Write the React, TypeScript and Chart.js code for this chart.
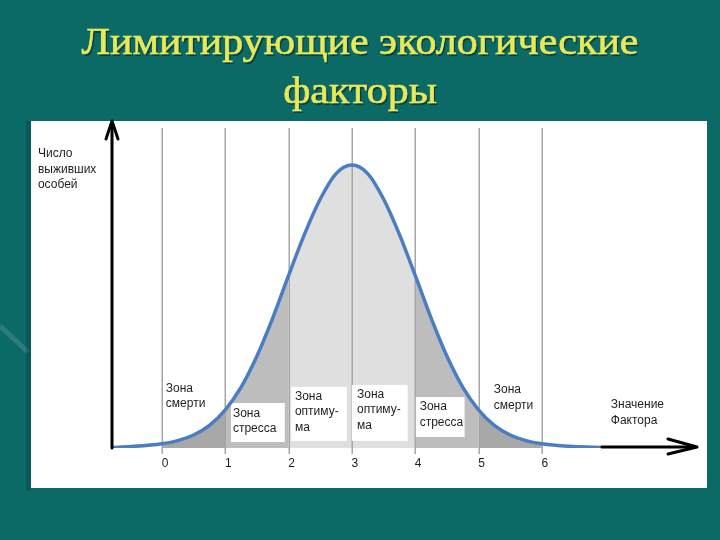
import React, { useEffect, useRef } from "react";
import { Chart, registerables } from "chart.js";

Chart.register(...registerables);

// ---------- data ----------
const titleLines = ["Лимитирующие экологические", "факторы"];
const factorValues = [
  -0.79, -0.5, 0, 0.25, 0.5, 0.75, 1, 1.25, 1.5, 1.75, 2, 2.25, 2.5, 2.75, 3,
  3.25, 3.5, 3.75, 4, 4.25, 4.5, 4.75, 5, 5.25, 5.5, 5.75, 6, 6.5, 6.95,
];
const survivors = [
  0.2, 0.5, 1.5, 2.6, 4.6, 8.0, 13.5, 21.5, 32.5, 46, 61, 75.5, 88, 97, 100,
  97, 88, 75.5, 61, 46, 32.5, 21.5, 13.5, 8.0, 4.6, 2.6, 1.5, 0.5, 0.2,
];
const tickValues = [0, 1, 2, 3, 4, 5, 6];
const zoneEdges = [0, 1, 2, 4, 5, 6];
const yAxisTitle = ["Число", "выживших", "особей"];
const xAxisTitle = ["Значение", "Фактора"];
const deathLabel = ["Зона", "смерти"];
const stressLabel = ["Зона", "стресса"];
const optimumLabel = ["Зона", "оптиму-", "ма"];

// ---------- styles / layout ----------
const zoneColors = ["#a8a8a8", "#bdbdbd", "#dfdfdf", "#bdbdbd", "#a8a8a8"];
const BG = "#0c6a66";
const TITLE_COLOR = "#e8e85a";
const TEXT_COLOR = "#1e1e1e";
const LABEL_FONT = '12px "Liberation Sans", Arial, sans-serif';
const LINE_H = 15.5;
const TITLE_WIDTH = 557;

type Lbl = { lines: string[]; x: number; y: number; box?: [number, number, number, number] };
const labelLayout: Lbl[] = [
  { lines: deathLabel, x: 0.06, y: 19.8 },
  { lines: stressLabel, x: 1.12, y: 11.0, box: [1.09, 1.94, 15.9, 2.1] },
  { lines: optimumLabel, x: 2.1, y: 17.0, box: [2.04, 2.92, 21.6, 2.5] },
  { lines: optimumLabel, x: 3.08, y: 17.7, box: [3.0, 3.88, 22.3, 2.5] },
  { lines: stressLabel, x: 4.07, y: 13.4, box: [4.01, 4.78, 18.0, 3.9] },
  { lines: deathLabel, x: 5.24, y: 19.4 },
  { lines: xAxisTitle, x: 7.09, y: 14.1 },
  { lines: yAxisTitle, x: -1.96, y: 102.8 },
];

function zoneColorFor(x: number): string {
  for (let i = 0; i < zoneEdges.length - 1; i++) {
    if (x >= zoneEdges[i] && x <= zoneEdges[i + 1]) return zoneColors[i];
  }
  return "rgba(0,0,0,0)";
}

const decorPlugin = {
  id: "decor",
  beforeDraw(chart: any) {
    const ctx = chart.ctx as CanvasRenderingContext2D;
    const W = chart.width;
    const H = chart.height;
    ctx.save();
    ctx.fillStyle = BG;
    ctx.fillRect(0, 0, W, H);
    // faint decorative streak
    ctx.strokeStyle = "rgba(255,255,255,0.13)";
    ctx.lineWidth = 5;
    ctx.beginPath();
    ctx.moveTo(0, 326);
    ctx.lineTo(28, 352);
    ctx.stroke();
    // panel shadow and panel
    ctx.fillStyle = "rgba(0,40,38,0.25)";
    ctx.fillRect(26, 121, 5, 370);
    ctx.fillStyle = "#ffffff";
    ctx.fillRect(31, 121, 676, 367);
    // title
    ctx.font = '37px "Liberation Serif", "Times New Roman", serif';
    ctx.textAlign = "center";
    ctx.textBaseline = "alphabetic";
    const sx = TITLE_WIDTH / ctx.measureText(titleLines[0]).width;
    const baselines = [54, 103];
    titleLines.forEach((t, i) => {
      ctx.save();
      ctx.translate(360, baselines[i]);
      ctx.scale(sx, 1);
      ctx.fillStyle = "rgba(0,30,25,0.55)";
      ctx.fillText(t, 1.5, 1.5);
      ctx.fillStyle = TITLE_COLOR;
      ctx.strokeStyle = TITLE_COLOR;
      ctx.lineWidth = 0.6;
      ctx.fillText(t, 0, 0);
      ctx.strokeText(t, 0, 0);
      ctx.restore();
    });
    ctx.restore();
  },
  afterDatasetDraw(chart: any, args: any) {
    if (args.index !== 0) return;
    const ctx = chart.ctx as CanvasRenderingContext2D;
    const xs = chart.scales.x;
    const ys = chart.scales.y;
    const area = chart.chartArea;
    ctx.save();
    // grid lines with tick marks
    ctx.strokeStyle = "#a6a6a6";
    ctx.lineWidth = 1.5;
    tickValues.forEach((v) => {
      const px = Math.round(xs.getPixelForValue(v)) + 0.25;
      ctx.beginPath();
      ctx.moveTo(px, area.top - 2);
      ctx.lineTo(px, area.bottom + 6);
      ctx.stroke();
    });
    // label boxes
    ctx.fillStyle = "#ffffff";
    labelLayout.forEach((l) => {
      if (!l.box) return;
      const x0 = xs.getPixelForValue(l.box[0]);
      const x1 = xs.getPixelForValue(l.box[1]);
      const y0 = ys.getPixelForValue(l.box[2]);
      const y1 = ys.getPixelForValue(l.box[3]);
      ctx.fillRect(x0, y0, x1 - x0, y1 - y0);
    });
    // label texts
    ctx.fillStyle = TEXT_COLOR;
    ctx.font = LABEL_FONT;
    ctx.textAlign = "left";
    ctx.textBaseline = "alphabetic";
    labelLayout.forEach((l) => {
      const px = xs.getPixelForValue(l.x);
      const py = ys.getPixelForValue(l.y);
      l.lines.forEach((t, i) => ctx.fillText(t, px, py + i * LINE_H));
    });
    ctx.restore();
  },
  afterDatasetsDraw(chart: any) {
    const ctx = chart.ctx as CanvasRenderingContext2D;
    const xs = chart.scales.x;
    const area = chart.chartArea;
    ctx.save();
    // tick labels
    ctx.fillStyle = TEXT_COLOR;
    ctx.font = LABEL_FONT;
    ctx.textAlign = "center";
    ctx.textBaseline = "alphabetic";
    tickValues.forEach((v) => {
      ctx.fillText(String(v), xs.getPixelForValue(v) + 3, area.bottom + 19);
    });
    // axes
    ctx.strokeStyle = "#000000";
    ctx.lineWidth = 3;
    ctx.lineCap = "round";
    ctx.lineJoin = "round";
    const ax = area.left;
    ctx.beginPath();
    ctx.moveTo(ax, area.bottom);
    ctx.lineTo(ax, area.top - 7);
    ctx.stroke();
    ctx.beginPath();
    ctx.moveTo(ax - 6, area.top + 9);
    ctx.lineTo(ax, area.top - 9);
    ctx.lineTo(ax + 6, area.top + 9);
    ctx.stroke();
    const xStart = xs.getPixelForValue(factorValues[factorValues.length - 1]);
    const ay = area.bottom - 1;
    ctx.beginPath();
    ctx.moveTo(xStart, ay);
    ctx.lineTo(area.right, ay);
    ctx.stroke();
    ctx.beginPath();
    ctx.moveTo(area.right - 27, ay - 8);
    ctx.lineTo(area.right + 2, ay);
    ctx.lineTo(area.right - 27, ay + 7);
    ctx.stroke();
    ctx.restore();
  },
};

export default function App() {
  const canvasRef = useRef<HTMLCanvasElement | null>(null);

  useEffect(() => {
    document.body.style.margin = "0";
    const canvas = canvasRef.current;
    if (!canvas) return;
    const points = factorValues.map((x, i) => ({ x, y: survivors[i] }));
    const chart = new Chart(canvas, {
      type: "line",
      data: {
        datasets: [
          {
            label: "zones",
            data: points,
            order: 2,
            borderWidth: 0,
            borderColor: "rgba(0,0,0,0)",
            pointRadius: 0,
            cubicInterpolationMode: "monotone",
            fill: "origin",
            backgroundColor: "rgba(0,0,0,0)",
            segment: {
              backgroundColor: (c: any) =>
                zoneColorFor((c.p0.parsed.x + c.p1.parsed.x) / 2),
            },
          } as any,
          {
            label: "Число выживших особей",
            data: points,
            order: 1,
            borderColor: "#4a7dc2",
            borderWidth: 3.5,
            pointRadius: 0,
            cubicInterpolationMode: "monotone",
            fill: false,
          },
        ],
      },
      options: {
        animation: false,
        responsive: false,
        devicePixelRatio: 1,
        layout: { padding: { left: 112, right: 25, top: 130, bottom: 92 } },
        scales: {
          x: { type: "linear", min: -0.79, max: 8.42, display: false },
          y: { min: 0, max: 112.4, display: false },
        },
        plugins: {
          legend: { display: false },
          tooltip: { enabled: false },
          title: { display: false },
        },
      },
      plugins: [decorPlugin],
    });
    return () => chart.destroy();
  }, []);

  return (
    <div style={{ position: "fixed", left: 0, top: 0, width: 720, height: 540 }}>
      <canvas ref={canvasRef} width={720} height={540} />
    </div>
  );
}
